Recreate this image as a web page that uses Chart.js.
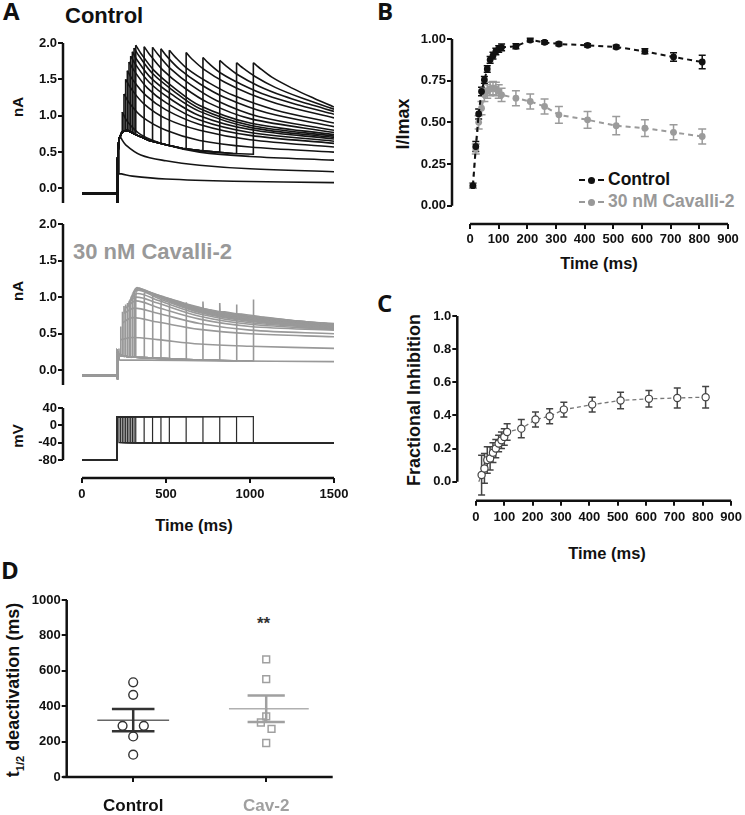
<!DOCTYPE html>
<html>
<head>
<meta charset="utf-8">
<script src="https://cdn.jsdelivr.net/npm/chart.js@4.4.1/dist/chart.umd.min.js"></script>
<style>
  body { margin: 0; background: #fff; width: 745px; height: 815px; position: relative; overflow: hidden;
         font-family: "Liberation Sans", Arial, sans-serif; color: #111; }
  canvas { position: absolute; }
  .t { position: absolute; font-weight: bold; white-space: nowrap; line-height: 1; }
  .letter { font-family: "Open Sans", sans-serif; font-size: 24px; }
  .rot { transform: translate(-50%, -50%) rotate(-90deg); }
  .ctr { transform: translate(-50%, -50%); }
  .leg { position: absolute; height: 0; border-top: 2.5px dashed; width: 25px; }
  .dot { position: absolute; width: 7px; height: 7px; border-radius: 50%; }
</style>
</head>
<body>
<div class="t letter" style="left:3px;top:-1px">A</div>
<div class="t letter" style="left:377px;top:-1px">B</div>
<div class="t letter" style="left:377px;top:291px">C</div>
<div class="t letter" style="left:1px;top:558px">D</div>

<div class="t" style="left:65px;top:5px;font-size:22px">Control</div>
<div class="t" style="left:73px;top:241px;font-size:22px;color:#999">30 nM Cavalli-2</div>

<div class="t rot" style="left:17px;top:107px;font-size:15px">nA</div>
<div class="t rot" style="left:17px;top:291px;font-size:15px">nA</div>
<div class="t rot" style="left:17px;top:436px;font-size:15px">mV</div>
<div class="t ctr" style="left:194px;top:525px;font-size:16.5px">Time (ms)</div>
<div class="t rot" style="left:403px;top:124px;font-size:18px">I/Imax</div>
<div class="t ctr" style="left:599px;top:263px;font-size:16.5px">Time (ms)</div>
<div class="t rot" style="left:414px;top:400px;font-size:18px">Fractional Inhibition</div>
<div class="t ctr" style="left:607px;top:553px;font-size:16.5px">Time (ms)</div>
<div class="t rot" style="left:15px;top:690px;font-size:18px">t<sub style="font-size:11px">1/2</sub> deactivation (ms)</div>
<div class="t" style="left:257px;top:615px;font-size:17px;color:#333">**</div>

<div class="leg" style="left:579px;top:179px;border-color:#111"></div>
<div class="dot" style="left:588px;top:177px;background:#111"></div>
<div class="t" style="left:608px;top:171px;font-size:17.5px">Control</div>
<div class="leg" style="left:579px;top:201px;border-color:#999"></div>
<div class="dot" style="left:588px;top:199px;background:#999"></div>
<div class="t" style="left:608px;top:193px;font-size:17.5px;color:#999">30 nM Cavalli-2</div>

<canvas id="a1" width="365" height="180" style="left:0;top:33px"></canvas>
<canvas id="a2" width="365" height="181" style="left:0;top:214px"></canvas>
<canvas id="a3" width="365" height="147" style="left:0;top:398px"></canvas>
<canvas id="b" width="373" height="251" style="left:370px;top:29px"></canvas>
<canvas id="c" width="376" height="269" style="left:370px;top:306px"></canvas>
<canvas id="d" width="345" height="225" style="left:0;top:590px"></canvas>

<script>
const FONT = '"Liberation Sans", Arial, sans-serif';
Chart.defaults.font.family = FONT;
Chart.defaults.color = '#111';
Chart.defaults.animation = false;
Chart.defaults.events = [];

// ---- panel A: protocol and current traces ----
const pulseStart = 210, holdV = -80, testV = 20, tailV = -40, baseI = -0.07;
const pulseEnds = [220, 230, 240, 250, 260, 270, 280, 290, 300, 310, 320, 370, 420, 470, 520, 620, 720, 820, 920, 1020];
const stepT = [210, 211, 213, 220, 240, 270, 320, 400, 500, 600, 700, 800, 900, 1020];
const ctrlStepI = [-0.07, -0.2, 0.4, 0.68, 0.78, 0.8, 0.74, 0.66, 0.6, 0.55, 0.52, 0.5, 0.48, 0.47];
const cavStepI = [-0.07, -0.12, 0.25, 0.21, 0.2, 0.19, 0.18, 0.17, 0.16, 0.15, 0.14, 0.14, 0.13, 0.13];

// tail currents at -40 mV: [t, nA], first point is the step level at pulse end
const ctrlTails = [
  [[220,0.68],[220,0.2],[235,0.2],[300,0.17],[500,0.13],[900,0.1],[1500,0.08]],
  [[230,0.74],[230,0.7],[260,0.6],[350,0.46],[500,0.38],[700,0.32],[1000,0.27],[1500,0.23]],
  [[240,0.78],[240,1.05],[270,0.92],[350,0.74],[500,0.6],[700,0.5],[1000,0.44],[1500,0.39]],
  [[250,0.79],[250,1.3],[280,1.18],[360,0.98],[500,0.8],[700,0.66],[1000,0.57],[1500,0.5]],
  [[260,0.8],[260,1.5],[290,1.38],[370,1.16],[500,0.96],[700,0.8],[1000,0.67],[1500,0.57]],
  [[270,0.8],[270,1.62],[300,1.5],[380,1.28],[500,1.08],[700,0.88],[1000,0.73],[1500,0.62]],
  [[280,0.79],[280,1.74],[310,1.62],[390,1.38],[500,1.18],[700,0.94],[1000,0.77],[1500,0.65]],
  [[290,0.78],[290,1.82],[320,1.7],[400,1.46],[520,1.24],[700,1.0],[1000,0.81],[1500,0.68]],
  [[300,0.77],[300,1.88],[330,1.76],[410,1.52],[530,1.3],[700,1.06],[1000,0.84],[1500,0.7]],
  [[310,0.75],[310,1.93],[340,1.82],[420,1.58],[540,1.35],[700,1.1],[1000,0.87],[1500,0.72]],
  [[320,0.74],[320,1.97],[350,1.86],[430,1.62],[550,1.38],[700,1.14],[1000,0.9],[1500,0.74]],
  [[370,0.69],[370,1.95],[400,1.85],[480,1.63],[600,1.4],[750,1.18],[1000,0.96],[1500,0.77]],
  [[420,0.65],[420,1.94],[450,1.85],[530,1.64],[650,1.42],[800,1.21],[1050,0.99],[1500,0.8]],
  [[470,0.62],[470,1.92],[500,1.83],[580,1.64],[700,1.44],[850,1.25],[1100,1.04],[1500,0.85]],
  [[520,0.59],[520,1.9],[550,1.82],[630,1.64],[750,1.46],[900,1.28],[1150,1.08],[1500,0.9]],
  [[620,0.55],[620,1.87],[650,1.79],[730,1.63],[850,1.46],[1000,1.3],[1200,1.14],[1500,0.97]],
  [[720,0.52],[720,1.8],[750,1.73],[830,1.58],[950,1.43],[1100,1.28],[1300,1.14],[1500,1.02]],
  [[820,0.5],[820,1.76],[850,1.7],[930,1.56],[1050,1.41],[1200,1.27],[1350,1.16],[1500,1.06]],
  [[920,0.48],[920,1.73],[950,1.67],[1030,1.54],[1150,1.39],[1300,1.25],[1500,1.09]],
  [[1020,0.47],[1020,1.73],[1050,1.67],[1130,1.53],[1250,1.38],[1380,1.24],[1500,1.12]]
];
// step level, artefact spike, tail start, then decay
const cavTails = [
  [[220,0.21],[220,0.3],[222,0.14],[400,0.14],[800,0.13],[1500,0.12]],
  [[230,0.2],[230,0.6],[232,0.42],[300,0.45],[450,0.42],[700,0.36],[1000,0.33],[1500,0.3]],
  [[240,0.2],[240,0.8],[242,0.65],[300,0.72],[450,0.66],[700,0.56],[1000,0.5],[1500,0.46]],
  [[250,0.19],[250,0.88],[252,0.78],[310,0.85],[450,0.78],[700,0.64],[1000,0.55],[1500,0.5]],
  [[260,0.19],[260,0.9],[262,0.85],[320,0.95],[450,0.86],[700,0.7],[1000,0.6],[1500,0.55]],
  [[270,0.19],[270,0.92],[272,0.9],[320,1.0],[450,0.92],[700,0.74],[1000,0.63],[1500,0.56]],
  [[280,0.18],[280,0.93],[282,0.95],[330,1.05],[460,0.95],[700,0.77],[1000,0.65],[1500,0.57]],
  [[290,0.18],[290,0.94],[292,1.0],[330,1.1],[460,0.98],[700,0.79],[1000,0.67],[1500,0.58]],
  [[300,0.18],[300,0.95],[302,1.05],[330,1.13],[460,1.0],[700,0.8],[1000,0.68],[1500,0.59]],
  [[310,0.18],[310,0.95],[312,1.08],[340,1.12],[470,1.0],[700,0.81],[1000,0.69],[1500,0.6]],
  [[320,0.18],[320,0.95],[322,1.08],[350,1.1],[480,1.0],[700,0.82],[1000,0.69],[1500,0.6]],
  [[370,0.17],[370,0.88],[372,1.06],[400,1.07],[520,0.97],[700,0.83],[1000,0.7],[1500,0.6]],
  [[420,0.17],[420,0.85],[422,1.02],[450,1.03],[570,0.94],[750,0.81],[1000,0.7],[1500,0.61]],
  [[470,0.16],[470,0.85],[472,0.98],[500,0.99],[620,0.91],[800,0.8],[1050,0.7],[1500,0.61]],
  [[520,0.16],[520,0.88],[522,0.93],[550,0.94],[670,0.87],[850,0.78],[1100,0.69],[1500,0.62]],
  [[620,0.15],[620,0.93],[622,0.87],[650,0.87],[770,0.81],[950,0.74],[1200,0.67],[1500,0.62]],
  [[720,0.14],[720,0.94],[722,0.83],[750,0.83],[870,0.78],[1050,0.72],[1250,0.67],[1500,0.63]],
  [[820,0.14],[820,0.92],[822,0.8],[850,0.8],[970,0.75],[1150,0.7],[1350,0.66],[1500,0.63]],
  [[920,0.13],[920,0.9],[922,0.77],[950,0.77],[1070,0.73],[1250,0.68],[1500,0.63]],
  [[1020,0.13],[1020,0.97],[1022,0.73],[1050,0.73],[1170,0.7],[1350,0.66],[1500,0.64]]
];
const currentTicks = [0, 0.5, 1.0, 1.5, 2.0];
const voltTicks = [-80, -40, 0, 40];
const timeTicksA = [0, 500, 1000, 1500];

// ---- panel B: normalised tail current ----
const bTimes = [10, 20, 30, 40, 50, 60, 70, 80, 90, 100, 110, 160, 210, 260, 310, 410, 510, 610, 710, 810];
const bCtrl = [0.12, 0.355, 0.55, 0.685, 0.755, 0.82, 0.875, 0.9, 0.925, 0.94, 0.95, 0.956, 0.994, 0.98, 0.97, 0.962, 0.952, 0.926, 0.892, 0.862];
const bCtrlErr = [0.015, 0.03, 0.03, 0.025, 0.02, 0.02, 0.02, 0.02, 0.02, 0.02, 0.02, 0.015, 0.01, 0.01, 0.01, 0.01, 0.01, 0.015, 0.025, 0.04];
const bCav = [0.12, 0.34, 0.5, 0.585, 0.665, 0.685, 0.7, 0.705, 0.7, 0.685, 0.665, 0.645, 0.625, 0.595, 0.545, 0.515, 0.48, 0.465, 0.44, 0.415];
const bCavErr = [0.015, 0.03, 0.04, 0.04, 0.04, 0.04, 0.04, 0.04, 0.04, 0.04, 0.04, 0.045, 0.045, 0.045, 0.05, 0.05, 0.055, 0.05, 0.045, 0.045];
const bTicksY = [0, 0.25, 0.5, 0.75, 1.0];
const timeTicksBC = [0, 100, 200, 300, 400, 500, 600, 700, 800, 900];

// ---- panel C: fractional inhibition ----
const cTimes = [10, 20, 30, 40, 50, 60, 70, 80, 90, 100, 110, 160, 210, 260, 310, 410, 510, 610, 710, 810];
const cVal = [0, 0.04, 0.08, 0.13, 0.14, 0.175, 0.2, 0.23, 0.25, 0.27, 0.3, 0.32, 0.375, 0.395, 0.435, 0.465, 0.49, 0.5, 0.505, 0.51];
const cErr = [0, 0.12, 0.09, 0.08, 0.07, 0.06, 0.055, 0.05, 0.05, 0.05, 0.05, 0.055, 0.045, 0.045, 0.045, 0.045, 0.05, 0.05, 0.06, 0.065];
const cTicksY = [0, 0.2, 0.4, 0.6, 0.8, 1.0];

// ---- panel D: t1/2 of deactivation ----
const groups = ['Control', 'Cav-2'];
const dCtrl = [535, 464, 289, 289, 229, 126];
const dCav = [665, 553, 342, 308, 272, 192];
const dMeans = [321, 386];
const dSems = [63, 75];
const dTicksY = [0, 200, 400, 600, 800, 1000];
const dCtrlJit = [0, 0, -0.08, 0.08, 0, 0];
const dCavJit = [0, 0, 0, -0.04, 0.04, 0];

// GraphPad style axis lines that stop at the tick range
const gpAxes = {
  id: 'gpAxes',
  afterDraw(chart, args, opts) {
    const {ctx, chartArea: a, scales} = chart;
    ctx.save();
    ctx.strokeStyle = '#111';
    ctx.lineWidth = 2.5;
    ctx.beginPath();
    if (opts.y) {
      ctx.moveTo(a.left, scales.y.getPixelForValue(opts.y[0]));
      ctx.lineTo(a.left, scales.y.getPixelForValue(opts.y[1]));
    }
    if (opts.x) {
      ctx.moveTo(scales.x.getPixelForValue(opts.x[0]), a.bottom);
      ctx.lineTo(scales.x.getPixelForValue(opts.x[1]), a.bottom);
    }
    ctx.stroke();
    ctx.restore();
  }
};

const errBars = {
  id: 'errBars',
  beforeDatasetsDraw(chart) {
    const {ctx, scales: {x, y}} = chart;
    chart.data.datasets.forEach(ds => {
      if (!ds.errs) return;
      ctx.save();
      ctx.strokeStyle = ds.errColor;
      ctx.lineWidth = 1.5;
      ds.data.forEach((p, i) => {
        const e = ds.errs[i];
        if (!e) return;
        const px = x.getPixelForValue(p.x);
        const y1 = y.getPixelForValue(p.y + e), y2 = y.getPixelForValue(p.y - e);
        ctx.beginPath();
        ctx.moveTo(px, y1); ctx.lineTo(px, y2);
        ctx.moveTo(px - ds.capW, y1); ctx.lineTo(px + ds.capW, y1);
        ctx.moveTo(px - ds.capW, y2); ctx.lineTo(px + ds.capW, y2);
        ctx.stroke();
      });
      ctx.restore();
    });
  }
};
Chart.register(gpAxes, errBars);

function yAxis(min, max, ticks, width, fmt) {
  return {
    type: 'linear', min: min, max: max,
    border: {display: false},
    grid: {drawOnChartArea: false, drawTicks: true, tickLength: 5, color: '#111', lineWidth: 2},
    ticks: {color: '#111', font: {size: 13, weight: 'bold'}, padding: 1, callback: fmt},
    afterBuildTicks: s => { s.ticks = ticks.map(v => ({value: v})); },
    afterFit: s => { s.width = width; }
  };
}
function xAxis(min, max, ticks, height, pad, fmt) {
  return {
    type: 'linear', min: min, max: max,
    border: {display: false},
    grid: {drawOnChartArea: false, drawTicks: true, tickLength: 5, color: '#111', lineWidth: 2},
    ticks: {color: '#111', font: {size: 13, weight: 'bold'}, padding: pad, autoSkip: false, maxRotation: 0, callback: fmt},
    afterBuildTicks: s => { s.ticks = ticks.map(v => ({value: v})); },
    afterFit: s => { s.height = height; }
  };
}

function traceSets(stepI, tails, headLen, color, width) {
  const sets = [];
  tails.forEach(tail => {
    const tEnd = tail[0][0];
    const head = [[0, baseI]];
    stepT.forEach((t, i) => { if (t < tEnd) head.push([t, stepI[i]]); });
    sets.push({data: head.concat(tail.slice(0, headLen)), borderColor: color, borderWidth: width, pointRadius: 0, tension: 0});
    sets.push({data: tail.slice(headLen - 1), borderColor: color, borderWidth: width, pointRadius: 0, tension: 0.35});
  });
  return sets;
}

const fmt1 = v => v.toFixed(1);
const fmt2 = v => v.toFixed(2);
const fmt0 = v => String(v);

const xHidden = {type: 'linear', display: false, min: -113, max: 1500};

new Chart(document.getElementById('a1'), {
  type: 'line',
  data: {datasets: traceSets(ctrlStepI, ctrlTails, 2, '#141414', 1.6)},
  options: {
    responsive: false,
    layout: {padding: {left: 0, top: 10, right: 31, bottom: 10}},
    scales: {x: xHidden, y: yAxis(-0.2, 2.0, currentTicks, 63, fmt1)},
    plugins: {legend: {display: false}, tooltip: {enabled: false}, gpAxes: {y: [-0.2, 2.0]}}
  }
});

new Chart(document.getElementById('a2'), {
  type: 'line',
  data: {datasets: traceSets(cavStepI, cavTails, 3, '#999999', 1.6)},
  options: {
    responsive: false,
    layout: {padding: {left: 0, top: 10, right: 31, bottom: 10}},
    scales: {x: xHidden, y: yAxis(-0.2, 2.0, currentTicks, 63, fmt1)},
    plugins: {legend: {display: false}, tooltip: {enabled: false}, gpAxes: {y: [-0.2, 2.0]}}
  }
});

const protocol = pulseEnds.map(tEnd => ({
  data: [[0, holdV], [pulseStart, holdV], [pulseStart, testV], [tEnd, testV], [tEnd, tailV], [1500, tailV]],
  borderColor: '#2a2a2a', borderWidth: 1.2, pointRadius: 0
}));
new Chart(document.getElementById('a3'), {
  type: 'line',
  data: {datasets: protocol},
  options: {
    responsive: false,
    layout: {padding: {left: 0, top: 10, right: 31, bottom: 0}},
    scales: {
      x: xAxis(-113, 1500, timeTicksA, 67, 4, fmt0),
      y: yAxis(-121.5, 40, voltTicks, 63, fmt0)
    },
    plugins: {legend: {display: false}, tooltip: {enabled: false}, gpAxes: {y: [-80, 40], x: [0, 1500]}}
  }
});

new Chart(document.getElementById('b'), {
  type: 'scatter',
  data: {
    datasets: [
      {data: bTimes.map((t, i) => ({x: t, y: bCtrl[i]})), errs: bCtrlErr, errColor: '#111', capW: 3.5,
       showLine: true, borderColor: '#111', backgroundColor: '#111', borderWidth: 2, borderDash: [5, 4],
       pointRadius: 3.4, pointBorderWidth: 0},
      {data: bTimes.map((t, i) => ({x: t, y: bCav[i]})), errs: bCavErr, errColor: '#9b9b9b', capW: 4,
       showLine: true, borderColor: '#9b9b9b', backgroundColor: '#9b9b9b', borderWidth: 2, borderDash: [5, 4],
       pointRadius: 3.4, pointBorderWidth: 0}
    ]
  },
  options: {
    responsive: false,
    layout: {padding: {left: 0, top: 10, right: 15, bottom: 0}},
    scales: {
      x: xAxis(-63, 900, timeTicksBC, 56, 3, fmt0),
      y: yAxis(-0.11, 1.0, bTicksY, 82, fmt2)
    },
    plugins: {legend: {display: false}, tooltip: {enabled: false}, gpAxes: {y: [0, 1.0], x: [0, 900]}}
  }
});

new Chart(document.getElementById('c'), {
  type: 'scatter',
  data: {
    datasets: [
      {data: cTimes.map((t, i) => ({x: t, y: cVal[i]})), errs: cErr, errColor: '#444', capW: 3.5,
       showLine: true, borderColor: '#777', borderWidth: 1.3, borderDash: [4, 3],
       pointRadius: cTimes.map((t, i) => i === 0 ? 0 : 3.6),
       pointBorderColor: '#444', pointBackgroundColor: '#fff', pointBorderWidth: 1.2}
    ]
  },
  options: {
    responsive: false,
    layout: {padding: {left: 0, top: 10, right: 13.7, bottom: 0}},
    scales: {
      x: xAxis(-65.7, 900, timeTicksBC, 74.3, 4, fmt0),
      y: yAxis(-0.115, 1.0, cTicksY, 87.3, fmt1)
    },
    plugins: {legend: {display: false}, tooltip: {enabled: false}, gpAxes: {y: [0, 1.0], x: [0, 900]}}
  }
});

function semSet(g, color, hw) {
  const m = dMeans[g], s = dSems[g], cx = g + 1;
  return {
    data: [{x: cx - hw, y: m + s}, {x: cx + hw, y: m + s}, {x: cx, y: null},
           {x: cx, y: m + s}, {x: cx, y: m - s}, {x: cx, y: null},
           {x: cx - hw, y: m - s}, {x: cx + hw, y: m - s}],
    showLine: true, borderColor: color, borderWidth: 2.5, pointRadius: 0
  };
}
function meanSet(g, color, lo, hi) {
  return {
    data: [{x: g + 1 + lo, y: dMeans[g]}, {x: g + 1 + hi, y: dMeans[g]}],
    showLine: true, borderColor: color, borderWidth: 1.5, pointRadius: 0
  };
}
const dX = xAxis(0.5, 2.5, [1, 2], 38, 14, (v, i) => groups[i]);
dX.ticks.font = {size: 17, weight: 'bold'};
dX.ticks.color = ctx => ctx.index === 1 ? '#a0a0a0' : '#111';
new Chart(document.getElementById('d'), {
  type: 'scatter',
  data: {
    datasets: [
      {data: dCtrl.map((v, i) => ({x: 1 + dCtrlJit[i], y: v})), pointStyle: 'circle', pointRadius: 4.4,
       pointBorderColor: '#333', pointBackgroundColor: 'rgba(255,255,255,0)', pointBorderWidth: 1.4},
      {data: dCav.map((v, i) => ({x: 2 + dCavJit[i], y: v})), pointStyle: 'rect', pointRadius: 4.8,
       pointBorderColor: '#a0a0a0', pointBackgroundColor: 'rgba(255,255,255,0)', pointBorderWidth: 1.5},
      semSet(0, '#333', 0.16),
      semSet(1, '#a0a0a0', 0.14),
      meanSet(0, '#666', -0.27, 0.27),
      meanSet(1, '#b0b0b0', -0.28, 0.32)
    ]
  },
  options: {
    responsive: false,
    layout: {padding: {left: 0, top: 10, right: 12.3, bottom: 0}},
    scales: {x: dX, y: yAxis(0, 1000, dTicksY, 66.7, fmt0)},
    plugins: {legend: {display: false}, tooltip: {enabled: false}, gpAxes: {y: [0, 1000], x: [0.47, 2.5]}}
  }
});
</script>
</body>
</html>
